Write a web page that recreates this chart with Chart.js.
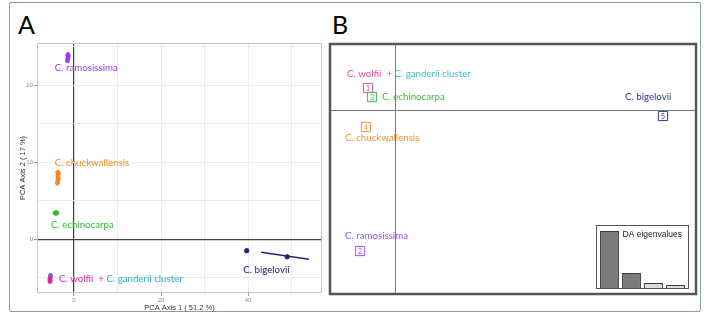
<!DOCTYPE html>
<html><head><meta charset="utf-8">
<script src="https://cdn.jsdelivr.net/npm/chart.js@4/dist/chart.umd.min.js"></script>
<style>
html,body{margin:0;padding:0;background:#fff;width:709px;height:322px;overflow:hidden}
#frame{position:absolute;left:9px;top:2px;width:692px;height:310px;border:1.5px solid #8e9ba8;border-radius:2px;box-sizing:border-box}
canvas{position:absolute;left:0;top:0}
.panel{position:absolute;font-family:Lato, "Open Sans", sans-serif;font-size:25px;line-height:25px;color:#000}
</style></head><body>
<div id="frame"></div>
<div class="panel" style="left:18px;top:12px">A</div>
<div class="panel" style="left:332px;top:12px">B</div>
<canvas id="a" width="709" height="322"></canvas>
<canvas id="b" width="709" height="322"></canvas>
<canvas id="c" width="93" height="64" style="left:596px;top:225px"></canvas>
<script>
// ---------- Panel A: PCA ----------
const ramosissimaPC1 = [-1.5, -1.4, -1.3, -1.4];
const ramosissimaPC2 = [23.2, 23.5, 23.8, 24.0];
const chuckwallensisPC1 = [-3.8, -3.7, -3.6, -3.7, -3.6, -3.7];
const chuckwallensisPC2 = [7.3, 7.6, 7.9, 8.2, 8.5, 8.7];
const echinocarpaPC1 = [-4.3, -4.0];
const echinocarpaPC2 = [3.4, 3.4];
const wolfiiPC1 = [-5.5, -5.5, -5.5];
const wolfiiPC2 = [-5.1, -5.3, -5.5];
const ganderiiPC1 = [-5.4, -5.4];
const ganderiiPC2 = [-4.7, -4.9];
const bigeloviiPC1 = [39.7, 49.0];
const bigeloviiPC2 = [-1.5, -2.3];
const bigeloviiSpreadPC1 = [43.0, 54.0];
const bigeloviiSpreadPC2 = [-1.7, -2.6];
const xTicksA = [0, 20, 40];
const yTicksA = [0, 10, 20];
const xGridA = [0, 10, 20, 30, 40, 50];
const yGridA = [-5, 0, 5, 10, 15, 20, 25];
const xTitleA = 'PCA Axis 1 ( 51.2 %)';
const yTitleA = 'PCA Axis 2 ( 17 %)';
// text labels in PCA coordinates (left edge of text)
const labelPC1 = [-4.4, -4.4, -5.3, -3.45, 38.9];
const labelPC2 = [22.3, 9.9, 1.8, -5.1, -4.0];

// ---------- Panel B: DA ----------
const daGroups = ['1', '2', '3', '4', '5'];
const daLD1 = [-1.35, -1.75, -1.15, -1.45, 13.4];
const daLD2 = [1.1, -7.05, 0.65, -0.85, -0.3];
const daLabelLD1 = [-2.4, -2.5, -0.65, -2.5, 11.5];
const daLabelLD2 = [1.8, -6.3, 0.65, -1.4, 0.65];
const eigenIdx = ['1', '2', '3', '4'];
const eigenValues = [57, 15, 5, 3];

const C = {
  wolfii: '#d42e9f', ganderii: '#25b6c6', ramo: '#9a3ff0', echino: '#2fbd35',
  chuck: '#f28a1c', big: '#1d2a78'
};
const CB = {
  wolfii: '#dc4cb0', ganderii: '#3fc2cf', ramo: '#a056ec', echino: '#3fba3f',
  chuck: '#f39334', big: '#2c3884'
};
const FONT = 'Lato, "Open Sans", sans-serif';

function pts(xs, ys) { return xs.map((v, i) => ({x: v, y: ys[i]})); }

function textLabels(items, size) {
  return {
    id: 'txt' + Math.random().toString(36).slice(2),
    afterDatasetsDraw(chart) {
      const {ctx, scales: {x, y}} = chart;
      ctx.save();
      ctx.font = size + 'px ' + FONT;
      ctx.textBaseline = 'middle';
      ctx.textAlign = 'left';
      items.forEach(it => {
        let px = x.getPixelForValue(it.x), py = y.getPixelForValue(it.y);
        it.parts.forEach(p => {
          ctx.fillStyle = p.color;
          ctx.fillText(p.text, px, py);
          px += ctx.measureText(p.text).width;
        });
      });
      ctx.restore();
    }
  };
}

const labelsA = [
  {x: labelPC1[0], y: labelPC2[0], parts: [{text: 'C. ramosissima', color: C.ramo}]},
  {x: labelPC1[1], y: labelPC2[1], parts: [{text: 'C. chuckwallensis', color: C.chuck}]},
  {x: labelPC1[2], y: labelPC2[2], parts: [{text: 'C. echinocarpa', color: C.echino}]},
  {x: labelPC1[3], y: labelPC2[3], parts: [{text: 'C. wolfii  +', color: C.wolfii}, {text: ' C. ganderii cluster', color: C.ganderii}]},
  {x: labelPC1[4], y: labelPC2[4], parts: [{text: 'C. bigelovii', color: C.big}]}
];

const frameA = {
  id: 'frameA',
  afterDatasetsDraw(chart) {
    const {ctx, chartArea: a} = chart;
    ctx.save();
    ctx.strokeStyle = '#c8c8c8';
    ctx.lineWidth = 1;
    ctx.strokeRect(a.left + 0.5, a.top + 0.5, a.right - a.left - 1, a.bottom - a.top - 1);
    ctx.restore();
  }
};

new Chart(document.getElementById('a'), {
  type: 'scatter',
  data: {datasets: [
    {data: pts(ramosissimaPC1, ramosissimaPC2), backgroundColor: C.ramo, borderColor: C.ramo, pointRadius: 2},
    {data: pts(chuckwallensisPC1, chuckwallensisPC2), backgroundColor: C.chuck, borderColor: C.chuck, pointRadius: 2},
    {data: pts(echinocarpaPC1, echinocarpaPC2), backgroundColor: C.echino, borderColor: C.echino, pointRadius: 2.2},
    {data: pts(wolfiiPC1, wolfiiPC2), backgroundColor: C.wolfii, borderColor: C.wolfii, pointRadius: 2},
    {data: pts(ganderiiPC1, ganderiiPC2), backgroundColor: '#7466d6', borderColor: '#7466d6', pointRadius: 1.9},
    {data: pts(bigeloviiSpreadPC1, bigeloviiSpreadPC2), showLine: true, borderColor: C.big, borderWidth: 1.5, pointRadius: 0},
    {data: pts(bigeloviiPC1, bigeloviiPC2), backgroundColor: C.big, borderColor: C.big, pointRadius: 2.2}
  ]},
  options: {
    responsive: false, animation: false, devicePixelRatio: 1,
    layout: {padding: {left: 18, top: 43, right: 387, bottom: 10}},
    plugins: {legend: {display: false}, tooltip: {enabled: false}},
    scales: {
      x: {
        type: 'linear', min: -8.5, max: 57,
        afterBuildTicks: s => { s.ticks = xGridA.map(v => ({value: v})); },
        afterFit: s => { s.height = 19; },
        ticks: {callback: v => xTicksA.includes(v) ? String(v) : '', font: {size: 6, family: 'Liberation Sans'}, color: '#8a8a8a', padding: 1, maxRotation: 0, autoSkip: false},
        grid: {color: c => c.tick && c.tick.value === 0 ? '#404040' : '#ececec', lineWidth: c => c.tick && c.tick.value === 0 ? 1.2 : 1, tickLength: 3, tickColor: c => c.tick && xTicksA.includes(c.tick.value) ? '#999' : 'rgba(0,0,0,0)'},
        border: {display: false},
        title: {display: true, text: xTitleA, font: {size: 7.5, family: 'Liberation Sans'}, color: '#333', padding: {top: 1, bottom: 0}}
      },
      y: {
        type: 'linear', min: -7, max: 25.5,
        afterBuildTicks: s => { s.ticks = yGridA.map(v => ({value: v})); },
        afterFit: s => { s.width = 19; },
        ticks: {callback: v => yTicksA.includes(v) ? String(v) : '', font: {size: 6, family: 'Liberation Sans'}, color: '#8a8a8a', padding: 1, autoSkip: false},
        grid: {color: c => c.tick && c.tick.value === 0 ? '#404040' : '#ececec', lineWidth: c => c.tick && c.tick.value === 0 ? 1.2 : 1, tickLength: 3, tickColor: c => c.tick && yTicksA.includes(c.tick.value) ? '#999' : 'rgba(0,0,0,0)'},
        border: {display: false},
        title: {display: true, text: yTitleA, font: {size: 7.5, family: 'Liberation Sans'}, color: '#333', padding: {top: 0, bottom: 1}}
      }
    }
  },
  plugins: [frameA, textLabels(labelsA, 9.7)]
});

// ---------- Panel B ----------
const boxColors = [CB.wolfii, CB.ramo, CB.echino, CB.chuck, CB.big];
const labelsB = [
  {x: daLabelLD1[0], y: daLabelLD2[0], parts: [{text: 'C. wolfii  +', color: CB.wolfii}, {text: ' C. ganderii cluster', color: CB.ganderii}]},
  {x: daLabelLD1[1], y: daLabelLD2[1], parts: [{text: 'C. ramosissima', color: CB.ramo}]},
  {x: daLabelLD1[2], y: daLabelLD2[2], parts: [{text: 'C. echinocarpa', color: CB.echino}]},
  {x: daLabelLD1[3], y: daLabelLD2[3], parts: [{text: 'C. chuckwallensis', color: CB.chuck}]},
  {x: daLabelLD1[4], y: daLabelLD2[4], parts: [{text: 'C. bigelovii', color: CB.big}]}
];

const daDecor = {
  id: 'daDecor',
  beforeDatasetsDraw(chart) {
    const {ctx, chartArea: a, scales: {x, y}} = chart;
    const x0 = Math.round(x.getPixelForValue(0)) + 0.5, y0 = Math.round(y.getPixelForValue(0)) + 0.5;
    ctx.save();
    ctx.strokeStyle = '#7a7a7a';
    ctx.lineWidth = 1;
    ctx.beginPath();
    ctx.moveTo(x0, a.top); ctx.lineTo(x0, a.bottom);
    ctx.moveTo(a.left, y0); ctx.lineTo(a.right, y0);
    ctx.stroke();
    ctx.restore();
  },
  afterDatasetsDraw(chart) {
    const {ctx, chartArea: a} = chart;
    const meta = chart.getDatasetMeta(0);
    ctx.save();
    ctx.font = '7.5px ' + FONT;
    ctx.textAlign = 'center';
    ctx.textBaseline = 'middle';
    meta.data.forEach((el, i) => {
      ctx.fillStyle = boxColors[i];
      ctx.fillText(daGroups[i], el.x, el.y + 0.5);
    });
    ctx.strokeStyle = '#555';
    ctx.lineWidth = 2.5;
    ctx.strokeRect(a.left, a.top, a.right - a.left, a.bottom - a.top);
    ctx.restore();
  }
};

new Chart(document.getElementById('b'), {
  type: 'scatter',
  data: {datasets: [{
    data: pts(daLD1, daLD2), pointStyle: 'rect', pointRadius: 6.5,
    backgroundColor: '#fff', borderColor: boxColors, borderWidth: 1
  }]},
  options: {
    responsive: false, animation: false, devicePixelRatio: 1,
    layout: {padding: {left: 330, top: 44, right: 13, bottom: 28}},
    plugins: {legend: {display: false}, tooltip: {enabled: false}},
    scales: {
      x: {type: 'linear', display: false, min: -3.25, max: 15.05},
      y: {type: 'linear', display: false, min: -9.2, max: 3.3}
    }
  },
  plugins: [daDecor, textLabels(labelsB, 9.7)]
});

// ---------- Inset: DA eigenvalues ----------
const insetDecor = {
  id: 'insetDecor',
  beforeDraw(chart) {
    const {ctx, width, height} = chart;
    ctx.save(); ctx.fillStyle = '#fff'; ctx.fillRect(0, 0, width, height); ctx.restore();
  },
  afterDraw(chart) {
    const {ctx, width, height, chartArea: a} = chart;
    ctx.save();
    ctx.strokeStyle = '#555'; ctx.lineWidth = 1;
    ctx.strokeRect(0.5, 0.5, width - 1, height - 1);
    ctx.font = '8.5px "Liberation Sans", Arial, sans-serif';
    ctx.fillStyle = '#222'; ctx.textAlign = 'left'; ctx.textBaseline = 'middle';
    ctx.fillText('DA eigenvalues', a.left + 24, 9.5);
    ctx.restore();
  }
};

new Chart(document.getElementById('c'), {
  type: 'bar',
  data: {labels: eigenIdx, datasets: [{
    data: eigenValues,
    backgroundColor: ['#7a7a7a', '#7a7a7a', '#dcdcdc', '#dcdcdc'],
    borderColor: '#3a3a3a', borderWidth: 1,
    categoryPercentage: 1, barPercentage: 0.86
  }]},
  options: {
    responsive: false, animation: false, devicePixelRatio: 1,
    layout: {padding: {left: 2.5, right: 2.5, top: 3, bottom: 1}},
    plugins: {legend: {display: false}, tooltip: {enabled: false}},
    scales: {
      x: {display: false},
      y: {display: false, min: 0, max: 60}
    }
  },
  plugins: [insetDecor]
});
</script>
</body></html>
